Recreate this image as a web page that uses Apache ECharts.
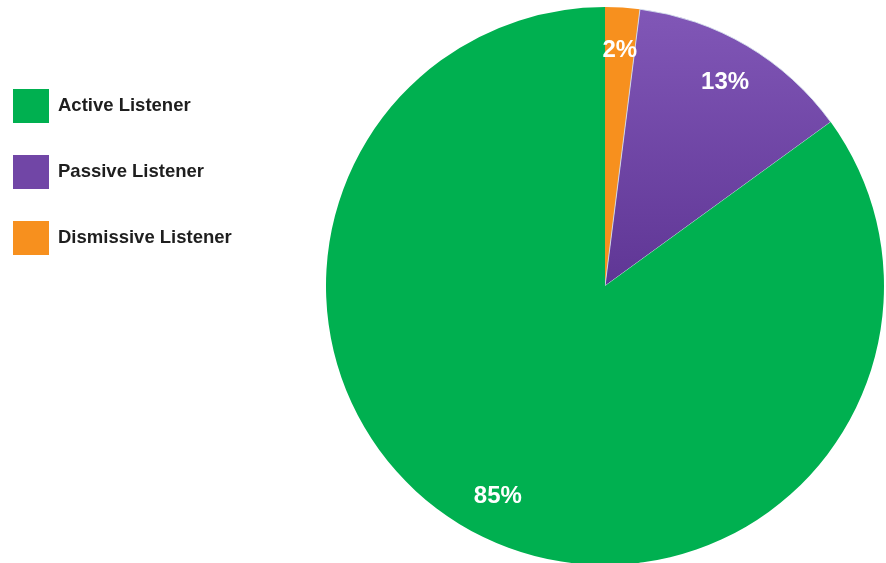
<!DOCTYPE html>
<html>
<head>
<meta charset="utf-8">
<script src="https://cdn.jsdelivr.net/npm/echarts@6/dist/echarts.min.js"></script>
<style>
  html, body { margin: 0; padding: 0; background: #ffffff; }
  #chart { width: 886px; height: 563px; }
</style>
</head>
<body>
<div id="chart"></div>
<script>
// Listener types, in legend order
const categories = ['Active Listener', 'Passive Listener', 'Dismissive Listener'];
// Share of respondents (%)
const shares = [85, 13, 2];
// Slice colours per category
const colors = ['#00B050', '#7146A6', '#F7901E'];

// Pie runs clockwise from 12 o'clock: Dismissive, Passive, Active
const sliceOrder = [2, 1, 0];

const purpleFill = new echarts.graphic.LinearGradient(0, 0, 0, 1, [
  { offset: 0, color: '#8157B7' },
  { offset: 1, color: '#5F3695' }
]);

const sliceData = sliceOrder.map(i => ({
  name: categories[i],
  value: shares[i],
  itemStyle: i === 1
    ? { color: purpleFill, borderColor: 'rgba(215,228,238,0.85)', borderWidth: 1 }
    : { color: colors[i], borderWidth: 0 }
}));

const labelData = sliceOrder.map(i => ({
  name: categories[i],
  value: shares[i]
}));

const chart = echarts.init(document.getElementById('chart'), null, { renderer: 'canvas' });

chart.setOption({
  animation: false,
  backgroundColor: '#ffffff',
  legend: {
    orient: 'vertical',
    left: 13,
    top: 89,
    padding: 0,
    icon: 'rect',
    itemWidth: 36,
    itemHeight: 34,
    itemGap: 32,
    selectedMode: false,
    data: categories.map((name, i) => ({
      name,
      itemStyle: { color: colors[i], borderWidth: 0 }
    })),
    textStyle: {
      fontFamily: 'Liberation Sans, Arial, sans-serif',
      fontWeight: 'bold',
      fontSize: 18.5,
      color: '#1e1e1e',
      padding: [0, 0, 0, 4]
    }
  },
  series: [
    {
      type: 'pie',
      center: [605, 286],
      radius: [0, 279],
      startAngle: 90,
      clockwise: true,
      silent: true,
      label: { show: false },
      labelLine: { show: false },
      data: sliceData
    },
    {
      // transparent ring that carries the percentage labels
      type: 'pie',
      center: [605, 286],
      radius: [187, 279],
      startAngle: 90,
      clockwise: true,
      silent: true,
      itemStyle: { color: 'rgba(0,0,0,0)', borderWidth: 0 },
      label: {
        show: true,
        position: 'inside',
        formatter: '{c}%',
        color: '#ffffff',
        fontFamily: 'Liberation Sans, Arial, sans-serif',
        fontWeight: 'bold',
        fontSize: 24
      },
      labelLine: { show: false },
      data: labelData
    }
  ]
});
</script>
</body>
</html>
